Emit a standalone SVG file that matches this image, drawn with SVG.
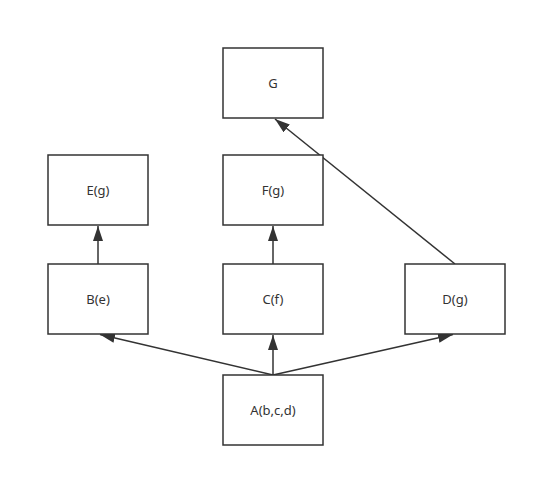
<svg xmlns="http://www.w3.org/2000/svg" width="537" height="477" viewBox="0 0 537 477">
<style>
.box{fill:#fff;stroke:#333;stroke-width:1.5}
.lbl{font-family:"Noto Sans","Open Sans",sans-serif;font-size:13px;fill:#333;text-anchor:middle;dominant-baseline:central}
.edge{stroke:#333;stroke-width:1.5;fill:none;marker-end:url(#arr)}
</style>
<defs>
<marker id="arr" markerUnits="userSpaceOnUse" markerWidth="16" markerHeight="12" refX="15" refY="5" orient="auto">
<path d="M0,0 L15,5 L0,10 Z" fill="#333"/>
</marker>
</defs>
<rect width="537" height="477" fill="#fff"/>
<g id="connectors">
<line class="edge" x1="98" y1="264" x2="98" y2="226"/>
<line class="edge" x1="273" y1="264" x2="273" y2="226"/>
<line class="edge" x1="273" y1="375" x2="100" y2="334.5"/>
<line class="edge" x1="273" y1="375" x2="273" y2="335"/>
<line class="edge" x1="273" y1="375" x2="453" y2="334.5"/>
<line class="edge" x1="455" y1="264" x2="275" y2="119"/>
</g>
<g id="G"><rect class="box" x="223" y="48" width="100" height="70"/><text class="lbl" x="273" y="83">G</text></g>
<g id="E"><rect class="box" x="48" y="155" width="100" height="70"/><text class="lbl" x="98" y="190">E(g)</text></g>
<g id="F"><rect class="box" x="223" y="155" width="100" height="70"/><text class="lbl" x="273" y="190">F(g)</text></g>
<g id="B"><rect class="box" x="48" y="264" width="100" height="70"/><text class="lbl" x="98" y="299">B(e)</text></g>
<g id="C"><rect class="box" x="223" y="264" width="100" height="70"/><text class="lbl" x="273" y="299">C(f)</text></g>
<g id="D"><rect class="box" x="405" y="264" width="100" height="70"/><text class="lbl" x="455" y="299">D(g)</text></g>
<g id="A"><rect class="box" x="223" y="375" width="100" height="70"/><text class="lbl" x="273" y="410">A(b,c,d)</text></g>
</svg>
